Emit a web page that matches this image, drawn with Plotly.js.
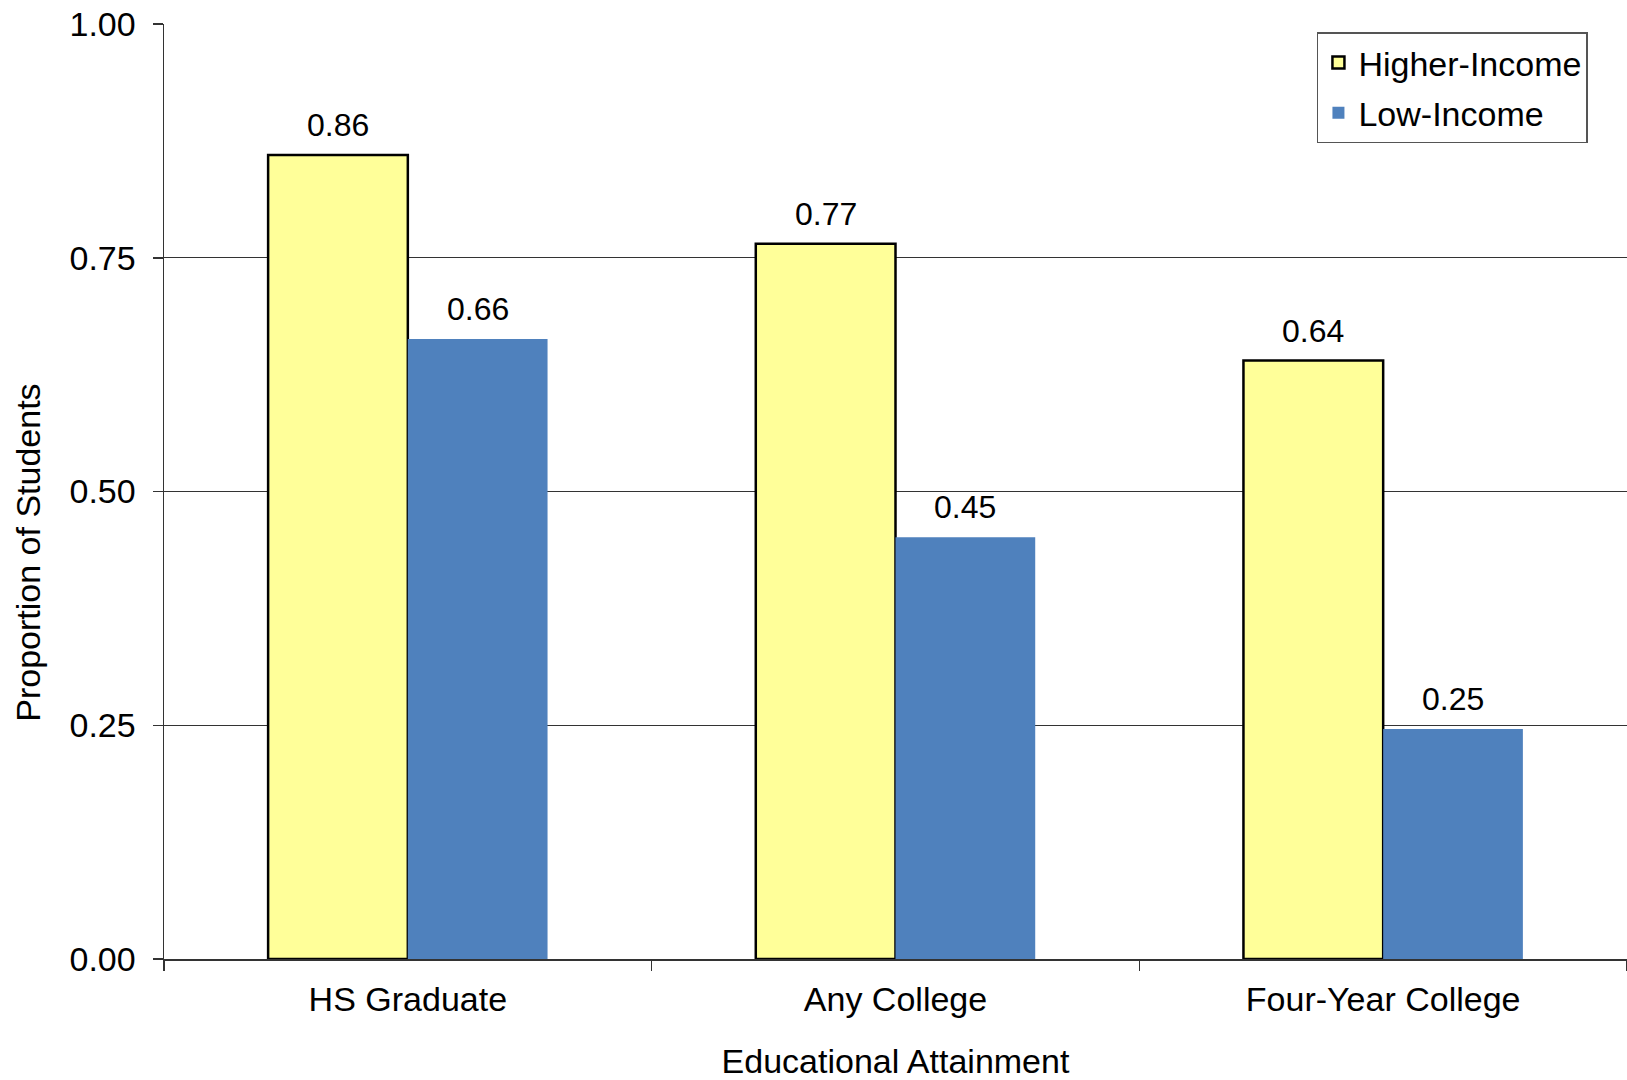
<!DOCTYPE html>
<html>
<head>
<meta charset="utf-8">
<script src="https://cdn.plot.ly/plotly-3.0.1.min.js"></script>
<style>html,body{margin:0;padding:0;background:#fff;}#chart{width:1627px;height:1080px;}</style>
</head>
<body>
<div id="chart"></div>
<script>
const categories = ["HS Graduate", "Any College", "Four-Year College"];
const higherIncome = [0.86, 0.765, 0.64];
const higherIncomeLabels = ["0.86", "0.77", "0.64"];
const lowIncome = [0.663, 0.451, 0.246];
const lowIncomeLabels = ["0.66", "0.45", "0.25"];
const yTicks = [0, 0.25, 0.5, 0.75, 1.0];
const yTickLabels = ["0.00", "0.25", "0.50", "0.75", "1.00"];
const xTitle = "Educational Attainment";
const yTitle = "Proportion of Students";

const FONT = "'Liberation Sans', Arial, sans-serif";
const BARGAP = 0.427;
const PLOT_W = 1627 - 164;

const traces = [
  {
    type: "bar", name: "Higher-Income", x: categories, y: higherIncome,
    legendgroup: "hi",
    marker: {color: "#FFFF99", line: {color: "#000", width: 2.5}}
  },
  {
    type: "bar", name: "Low-Income", x: categories, y: lowIncome,
    legendgroup: "lo",
    marker: {color: "#4F81BD", line: {width: 0}}
  }
];

// value labels above each bar, placed through the axes
const halfBar = (PLOT_W / categories.length) * (1 - BARGAP) / 4;
const annotations = [];
categories.forEach((c, i) => {
  annotations.push({x: c, y: higherIncome[i], xref: "x", yref: "y", text: higherIncomeLabels[i],
    showarrow: false, xshift: -halfBar, yshift: 30, yanchor: "middle",
    font: {family: FONT, size: 32, color: "#000"}});
  annotations.push({x: c, y: lowIncome[i], xref: "x", yref: "y", text: lowIncomeLabels[i],
    showarrow: false, xshift: halfBar, yshift: 30, yanchor: "middle",
    font: {family: FONT, size: 32, color: "#000"}});
});
// y-axis title (sits below the vertical centre in the original)
annotations.push({xref: "paper", yref: "paper", x: -0.0926, y: 0.434, text: yTitle,
  textangle: -90, showarrow: false, xanchor: "center", yanchor: "middle",
  font: {family: FONT, size: 34, color: "#000"}});

const layout = {
  width: 1627, height: 1080,
  margin: {l: 164, r: 0, t: 24, b: 121, pad: 0},
  paper_bgcolor: "#fff", plot_bgcolor: "#fff",
  font: {family: FONT, size: 34, color: "#000"},
  barmode: "group", bargap: BARGAP, bargroupgap: 0,
  showlegend: true,
  annotations: annotations,
  legend: {
    x: 0.9733, xanchor: "right", y: 0.991, yanchor: "top",
    bgcolor: "#fff", bordercolor: "#555", borderwidth: 1.5,
    font: {family: FONT, size: 34, color: "#000"},
    traceorder: "grouped", tracegroupgap: 3
  },
  xaxis: {
    type: "category",
    showline: true, linecolor: "#333", linewidth: 1.5,
    ticks: "outside", tickson: "boundaries", ticklen: 10, tickcolor: "#333", tickwidth: 1.5,
    ticklabelstandoff: 10,
    showgrid: false, zeroline: false,
    tickfont: {family: FONT, size: 34, color: "#000"},
    title: {text: xTitle, font: {family: FONT, size: 34, color: "#000"}, standoff: 35},
    automargin: false
  },
  yaxis: {
    range: [0, 1.0],
    tickvals: yTicks, ticktext: yTickLabels,
    showline: true, linecolor: "#333", linewidth: 1.5,
    ticks: "outside", ticklen: 10, tickcolor: "#333", tickwidth: 1.5,
    ticklabelstandoff: 10,
    showgrid: true, gridcolor: "#333", gridwidth: 1.2,
    zeroline: false,
    tickfont: {family: FONT, size: 34, color: "#000"},
    automargin: false
  }
};

Plotly.newPlot("chart", traces, layout, {displayModeBar: false, staticPlot: true});
</script>
</body>
</html>
